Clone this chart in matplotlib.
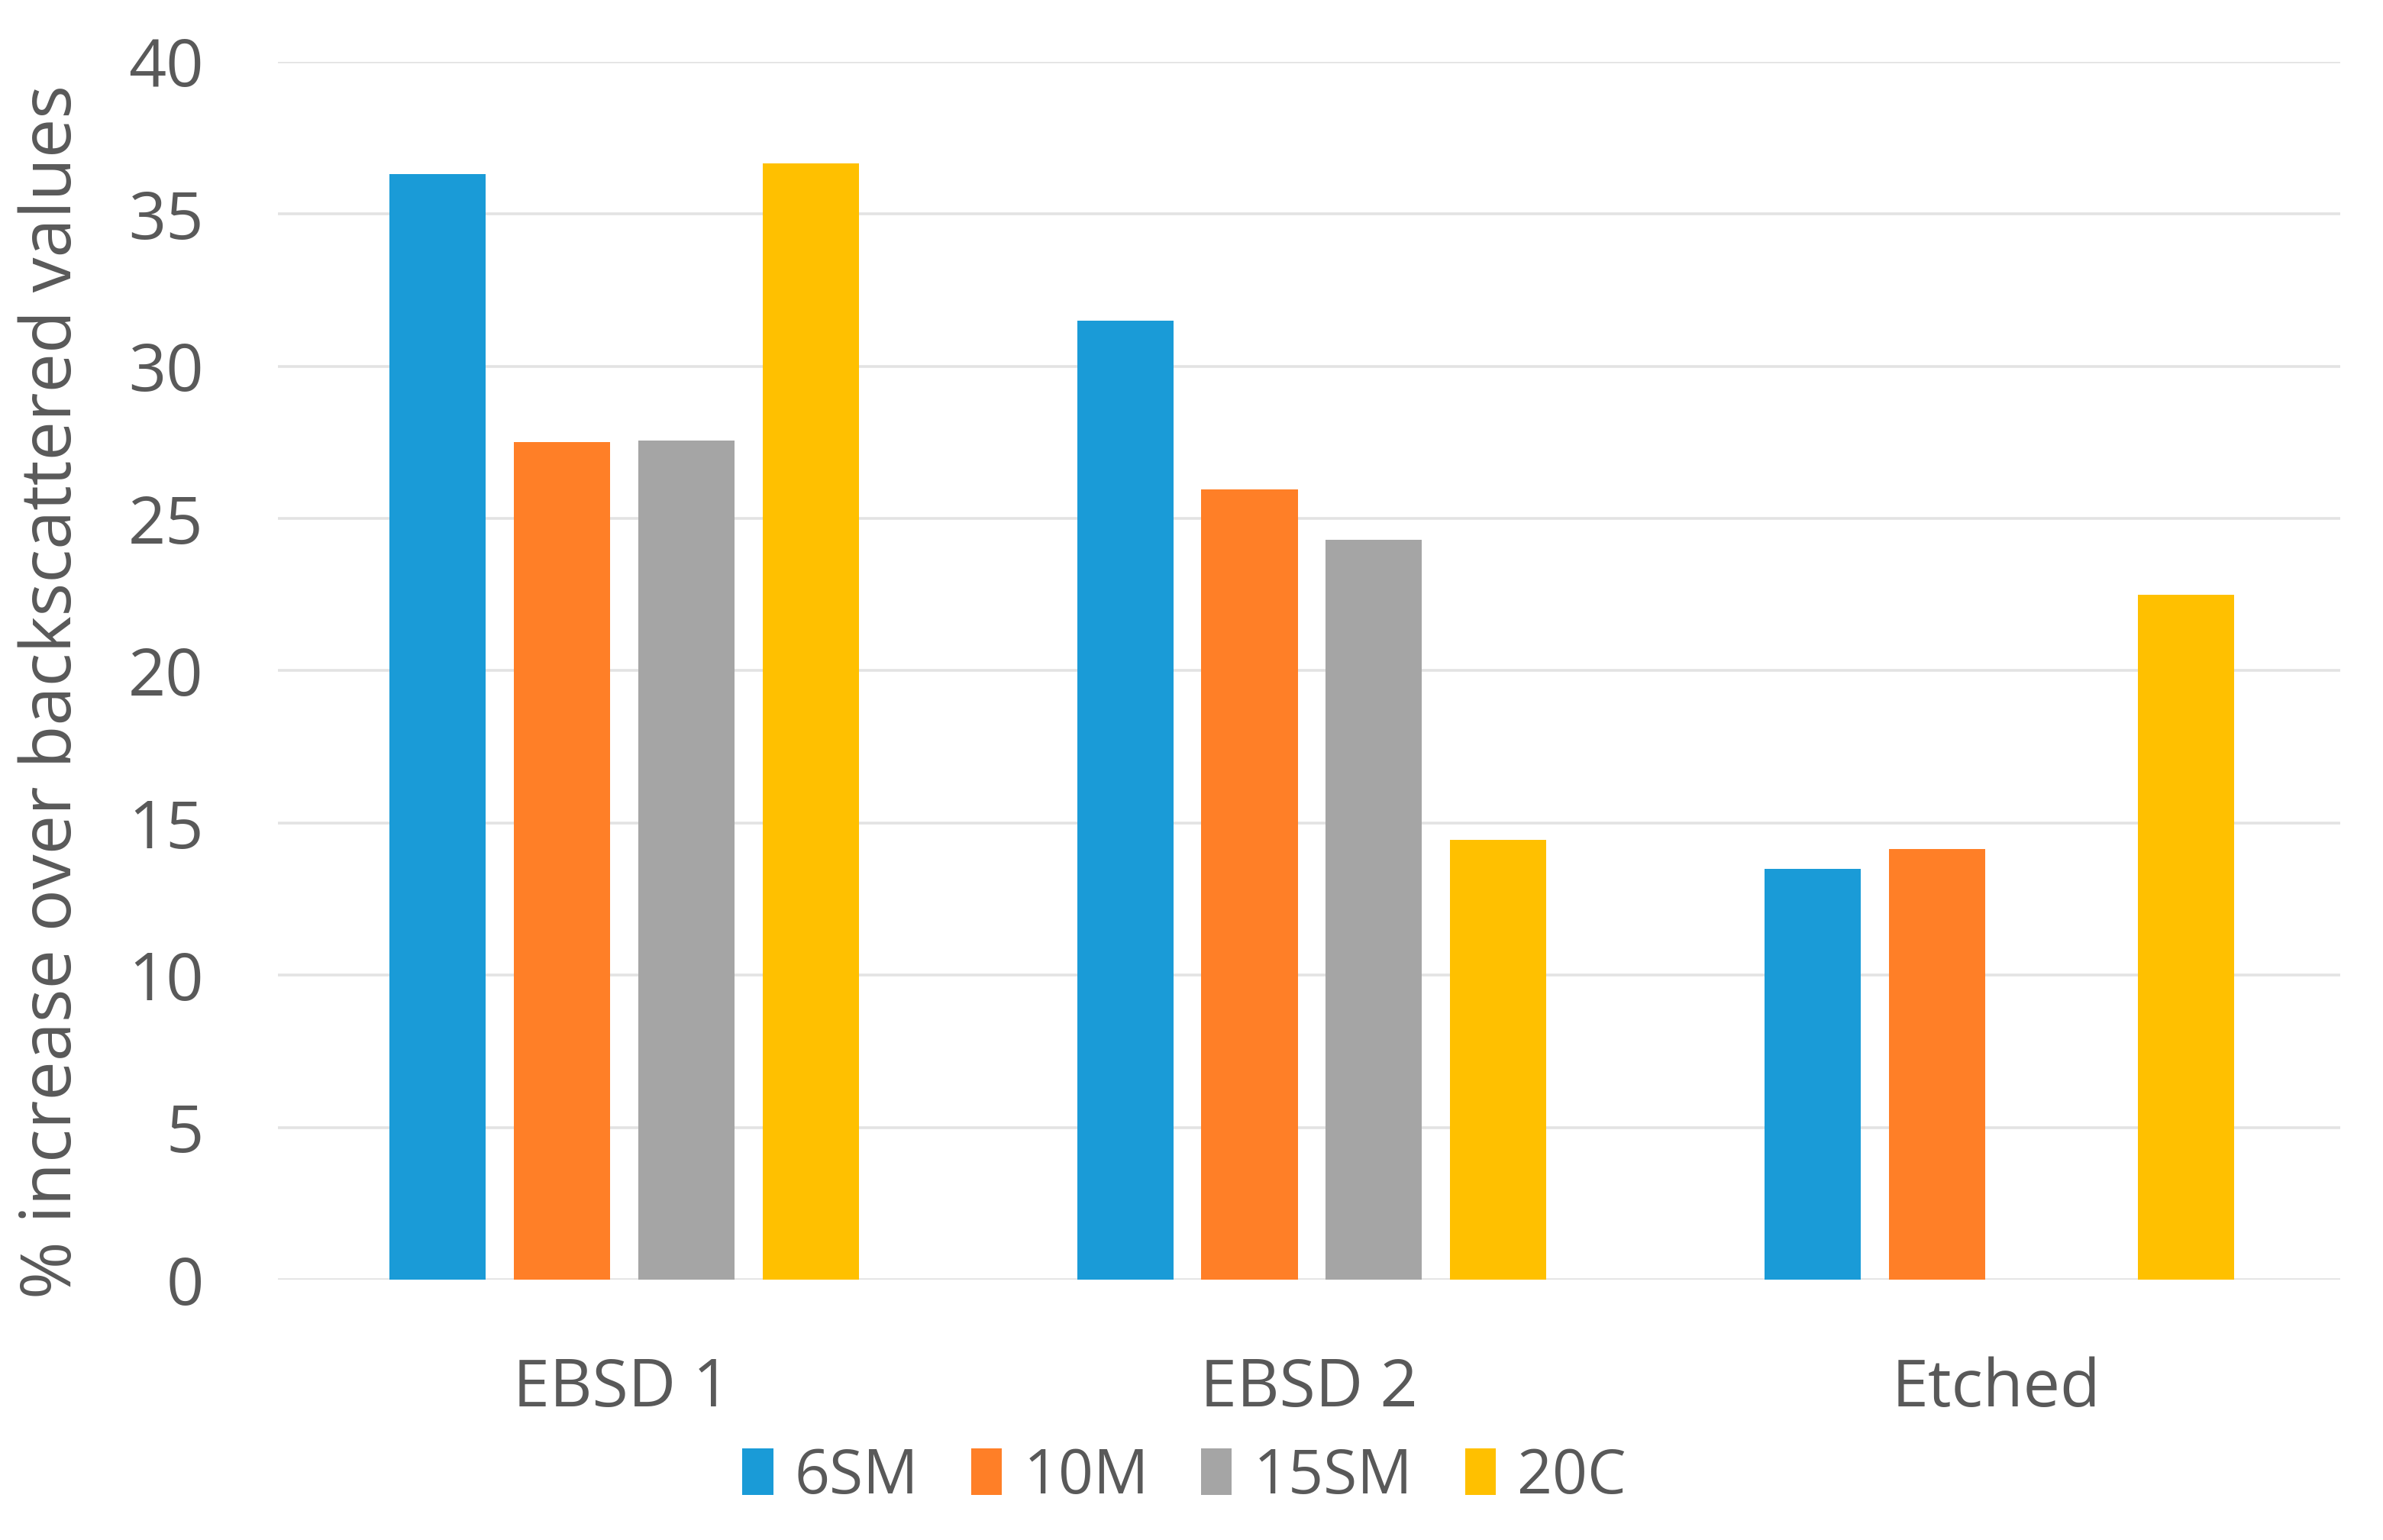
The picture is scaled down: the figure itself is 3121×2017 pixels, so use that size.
import numpy as np
import matplotlib
matplotlib.use("Agg")
import matplotlib.pyplot as plt

# du lieu doc tu bieu do
categories = ["EBSD 1", "EBSD 2", "Etched"]
series_names = ["6SM", "10M", "15SM", "20C"]
v_6SM = [36.3, 31.5, 13.5]
v_10M = [27.5, 25.95, 14.15]
v_15SM = [27.55, 24.3, 0]
v_20C = [36.65, 14.45, 22.5]
y_ticks = [0, 5, 10, 15, 20, 25, 30, 35, 40]

colors = ["#1A9BD7", "#FF7F27", "#A5A5A5", "#FFC000"]
text_color = "#595959"

plt.rcParams['font.family'] = ['Open Sans', 'DejaVu Sans']

fig = plt.figure(figsize=(31.21, 20.17), dpi=100)
ax = fig.add_axes([0.1166, 0.169, 0.982 - 0.1166, 0.960 - 0.169])

x = np.arange(len(categories))
width = 0.14
step = 0.181
all_vals = [v_6SM, v_10M, v_15SM, v_20C]
for i, vals in enumerate(all_vals):
    ax.bar(x + (i - 1.5) * step + 0.004, vals, width, color=colors[i],
           label=series_names[i], zorder=3)

ax.set_xlim(-0.5, 2.5)
ax.set_ylim(0, 40)
ax.set_yticks(y_ticks)
ax.set_xticks(x)
ax.set_xticklabels(categories)

ax.yaxis.grid(True, color="#E3E3E3", linewidth=2.6, zorder=0)
ax.set_axisbelow(True)
for s in ax.spines.values():
    s.set_visible(False)
ax.tick_params(axis='both', length=0, labelsize=62, labelcolor=text_color)
ax.tick_params(axis='y', pad=70)
ax.tick_params(axis='x', pad=72)

ax.set_ylabel("% increase over backscattered values", fontsize=66,
              color=text_color)
ax.yaxis.set_label_coords(-0.092, 0.483)

leg = fig.legend(loc='center', bbox_to_anchor=(0.497, 0.041), ncol=4,
                 frameon=False, fontsize=58, handlelength=0.5,
                 handleheight=0.8, handletextpad=0.35, columnspacing=0.85,
                 labelcolor=text_color)

fig.savefig("out.png", dpi=100)
